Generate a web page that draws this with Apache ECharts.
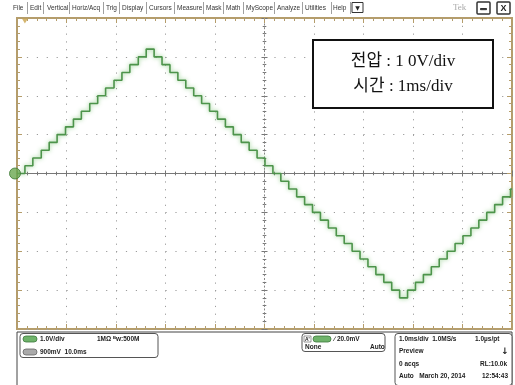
<!DOCTYPE html>
<html>
<head>
<meta charset="utf-8">
<script src="https://cdn.jsdelivr.net/npm/echarts@6/dist/echarts.min.js"></script>
<style>
  html, body { margin: 0; padding: 0; background: #fff; }
  #chart { width: 515px; height: 385px; }
</style>
</head>
<body>
<div id="chart"></div>
<script>
// time (ms) at which each DAC step begins, and the level (V) it holds
const stepTimes = [
  0, 0.16, 0.32, 0.49, 0.65, 0.81, 0.98, 1.14, 1.30, 1.47, 1.63, 1.79, 1.96, 2.12, 2.28, 2.45, 2.61,
  2.77, 2.93, 3.09, 3.25, 3.41, 3.57, 3.73, 3.89, 4.05, 4.21, 4.37, 4.53, 4.69, 4.85, 5.01, 5.17,
  5.33, 5.49, 5.65, 5.81, 5.97, 6.13, 6.29, 6.45, 6.61, 6.77, 6.93, 7.09, 7.25, 7.41, 7.57, 7.73,
  7.89, 8.05, 8.21, 8.37, 8.53, 8.69, 8.85, 9.01, 9.17, 9.33, 9.49, 9.65, 9.81, 9.97, 10
];
const stepLevels = [
  0, 0.2, 0.4, 0.6, 0.8, 1.0, 1.2, 1.4, 1.6, 1.8, 2.0, 2.2, 2.4, 2.6, 2.8, 3.0, 3.2,
  3.0, 2.8, 2.6, 2.4, 2.2, 2.0, 1.8, 1.6, 1.4, 1.2, 1.0, 0.8, 0.6, 0.4, 0.2, 0.0,
  -0.2, -0.4, -0.6, -0.8, -1.0, -1.2, -1.4, -1.6, -1.8, -2.0, -2.2, -2.4, -2.6, -2.8, -3.0, -3.2,
  -3.0, -2.8, -2.6, -2.4, -2.2, -2.0, -1.8, -1.6, -1.4, -1.2, -1.0, -0.8, -0.6, -0.4, -0.4
];
const groundRef = [[0, 0]];
const triggerPos = [[0.16, 4]];

const menuItems = ["File", "Edit", "Vertical", "Horiz/Acq", "Trig", "Display", "Cursors",
  "Measure", "Mask", "Math", "MyScope", "Analyze", "Utilities", "Help"];
const menuX = [13, 30, 47, 72, 106, 122, 149, 177, 206, 226, 246, 277, 305, 333];
const sepX = [27, 43, 69, 103, 119, 146, 174, 203, 223, 243, 274, 302, 331, 350];

const annotation = ["전압 : 1 0V/div", "시간 : 1ms/div"];

const tan = "#b59d6b";
const small = "6.5px 'Liberation Sans', Arial, sans-serif";
const smallB = "bold 6.5px 'Liberation Sans', Arial, sans-serif";

function txt(x, y, text, font, fill, align) {
  return { type: "text", x: x, y: y, z: 20,
    style: { text: text, font: font || smallB, fill: fill || "#222",
      textAlign: align || "left", textVerticalAlign: "middle" } };
}
function box(x, y, w, h, r, stroke, fill, lw) {
  return { type: "rect", z: 15, shape: { x: x, y: y, width: w, height: h, r: r || 0 },
    style: { fill: fill || "none", stroke: stroke || "#333", lineWidth: lw || 1 } };
}

const graphics = [];
menuItems.forEach((m, i) => graphics.push(txt(menuX[i], 8, m, small, "#333")));
sepX.forEach((x) => graphics.push({ type: "rect", z: 15,
  shape: { x: x, y: 2, width: 0.8, height: 12 }, style: { fill: "#888" } }));
graphics.push(box(352, 2.5, 11, 10, 0, "#333", "#fff", 1));
graphics.push(txt(357.5, 8, "▼", "6px 'DejaVu Sans'", "#222", "center"));
graphics.push(txt(453, 8, "Tek", "9px 'Liberation Serif', serif", "#aaa"));
graphics.push(box(477, 2, 13, 12, 1, "#333", "#fff", 1.5));
graphics.push(box(480.5, 8.5, 6, 1.2, 0, "#333", "#333", 0));
graphics.push(box(497, 2, 13, 12, 1, "#333", "#fff", 1.5));
graphics.push(txt(503.5, 8.5, "X", "bold 9px 'Liberation Sans'", "#222", "center"));

// annotation box
graphics.push(box(313, 40, 180, 68, 0, "#111", "#fff", 2));
graphics.push(txt(403, 62, annotation[0], "17px 'Liberation Serif', 'Noto Sans CJK KR', serif", "#111", "center"));
graphics.push(txt(403, 87, annotation[1], "17px 'Liberation Serif', 'Noto Sans CJK KR', serif", "#111", "center"));

// bottom status panel
graphics.push(box(17, 332, 495, 60, 0, "#444", "#fff", 1));
graphics.push(box(20, 333.5, 138, 24, 3, "#555", "#fff", 1));
graphics.push(box(23, 336, 14, 6, 3, "#3d7a3d", "#6fb36a", 0.8));
graphics.push(txt(40, 339, "1.0V/div"));
graphics.push(txt(97, 339, "1MΩ ᴮw:500M"));
graphics.push(box(23, 349, 14, 6, 3, "#666", "#aaa", 0.8));
graphics.push(txt(40, 352, "900mV  10.0ms"));
graphics.push(box(302, 333.5, 83, 18, 3, "#555", "#fff", 1));
graphics.push(box(304, 336, 7, 6, 0, "#555", "#fff", 0.6));
graphics.push(txt(305, 339.5, "A'", "bold 5px 'Liberation Sans'"));
graphics.push(box(313, 336, 18, 6, 3, "#3d7a3d", "#6fb36a", 0.8));
graphics.push(txt(334, 339, "∕ 20.0mV"));
graphics.push(txt(305, 347.5, "None"));
graphics.push(txt(370, 347.5, "Auto"));
graphics.push(box(395, 333.5, 117, 52, 3, "#555", "#fff", 1));
graphics.push(txt(399, 339, "1.0ms/div  1.0MS/s"));
graphics.push(txt(475, 339, "1.0µs/pt"));
graphics.push(txt(399, 351, "Preview"));
graphics.push(txt(505, 352, "↓", "bold 9px 'DejaVu Sans'", "#222", "center"));
graphics.push(txt(399, 364, "0 acqs"));
graphics.push(txt(480, 364, "RL:10.0k"));
graphics.push(txt(399, 376, "Auto   March 20, 2014"));
graphics.push(txt(482, 376, "12:54:43"));

const noLabel = { show: false };
function edgeAxis(pos, inside, len, color, extra) {
  return Object.assign({
    type: "value", min: pos === "left" || pos === "right" ? -4 : 0,
    max: pos === "left" || pos === "right" ? 4 : 10, interval: 1, position: pos,
    axisLine: { show: false, onZero: false },
    axisTick: { show: true, inside: inside, length: len, lineStyle: { color: color, width: 1 } },
    minorTick: { show: true, splitNumber: 5, length: len * 0.6, lineStyle: { color: color, width: 1 } },
    axisLabel: noLabel, splitLine: { show: false }
  }, extra || {});
}

const chart = echarts.init(document.getElementById("chart"), null, { renderer: "canvas" });
chart.setOption({
  backgroundColor: "#fff",
  animation: false,
  grid: { left: 17, right: 3, top: 18, bottom: 56, show: true,
    borderColor: tan, borderWidth: 2, backgroundColor: "#fff" },
  xAxis: [
    edgeAxis("bottom", true, 5, tan, {
      splitLine: { show: true, lineStyle: { color: "#9c9c9c", width: 1, type: [1.2, 6.58] } } }),
    edgeAxis("top", true, 5, tan),
    edgeAxis("bottom", true, 3, "#777", {
      axisLine: { show: true, onZero: true, lineStyle: { color: "#777", width: 1 } } }),
    edgeAxis("bottom", false, 3, "#777", {
      axisLine: { show: false, onZero: true } })
  ],
  yAxis: [
    edgeAxis("left", true, 5, tan, {
      splitLine: { show: true, lineStyle: { color: "#9c9c9c", width: 1, type: [1.2, 8.7] } } }),
    edgeAxis("right", true, 5, tan),
    edgeAxis("left", true, 3, "#777", { offset: -247.5,
      axisLine: { show: true, onZero: false, lineStyle: { color: "#888", width: 1, type: [1.2, 2.6] } } }),
    edgeAxis("left", false, 3, "#777", { offset: -247.5 })
  ],
  series: [
    {
      type: "line",
      step: "end",
      data: stepTimes.map((t, i) => [t, stepLevels[i]]),
      showSymbol: false,
      lineStyle: { color: "#4d944b", width: 1.6, shadowBlur: 4, shadowColor: "rgba(110,190,100,0.8)" },
      z: 5
    },
    {
      type: "scatter",
      data: groundRef,
      symbol: "circle",
      symbolSize: 11,
      symbolOffset: [-2, 0],
      clip: false,
      itemStyle: { color: "#6aa84f", borderColor: "#3e7a36", borderWidth: 1 },
      z: 6
    },
    {
      type: "scatter",
      data: triggerPos,
      symbol: "triangle",
      symbolRotate: 180,
      symbolSize: [6, 5],
      symbolOffset: [0, 3],
      clip: false,
      itemStyle: { color: "#c9a24a" },
      z: 6
    }
  ],
  graphic: graphics
});
</script>
</body>
</html>
